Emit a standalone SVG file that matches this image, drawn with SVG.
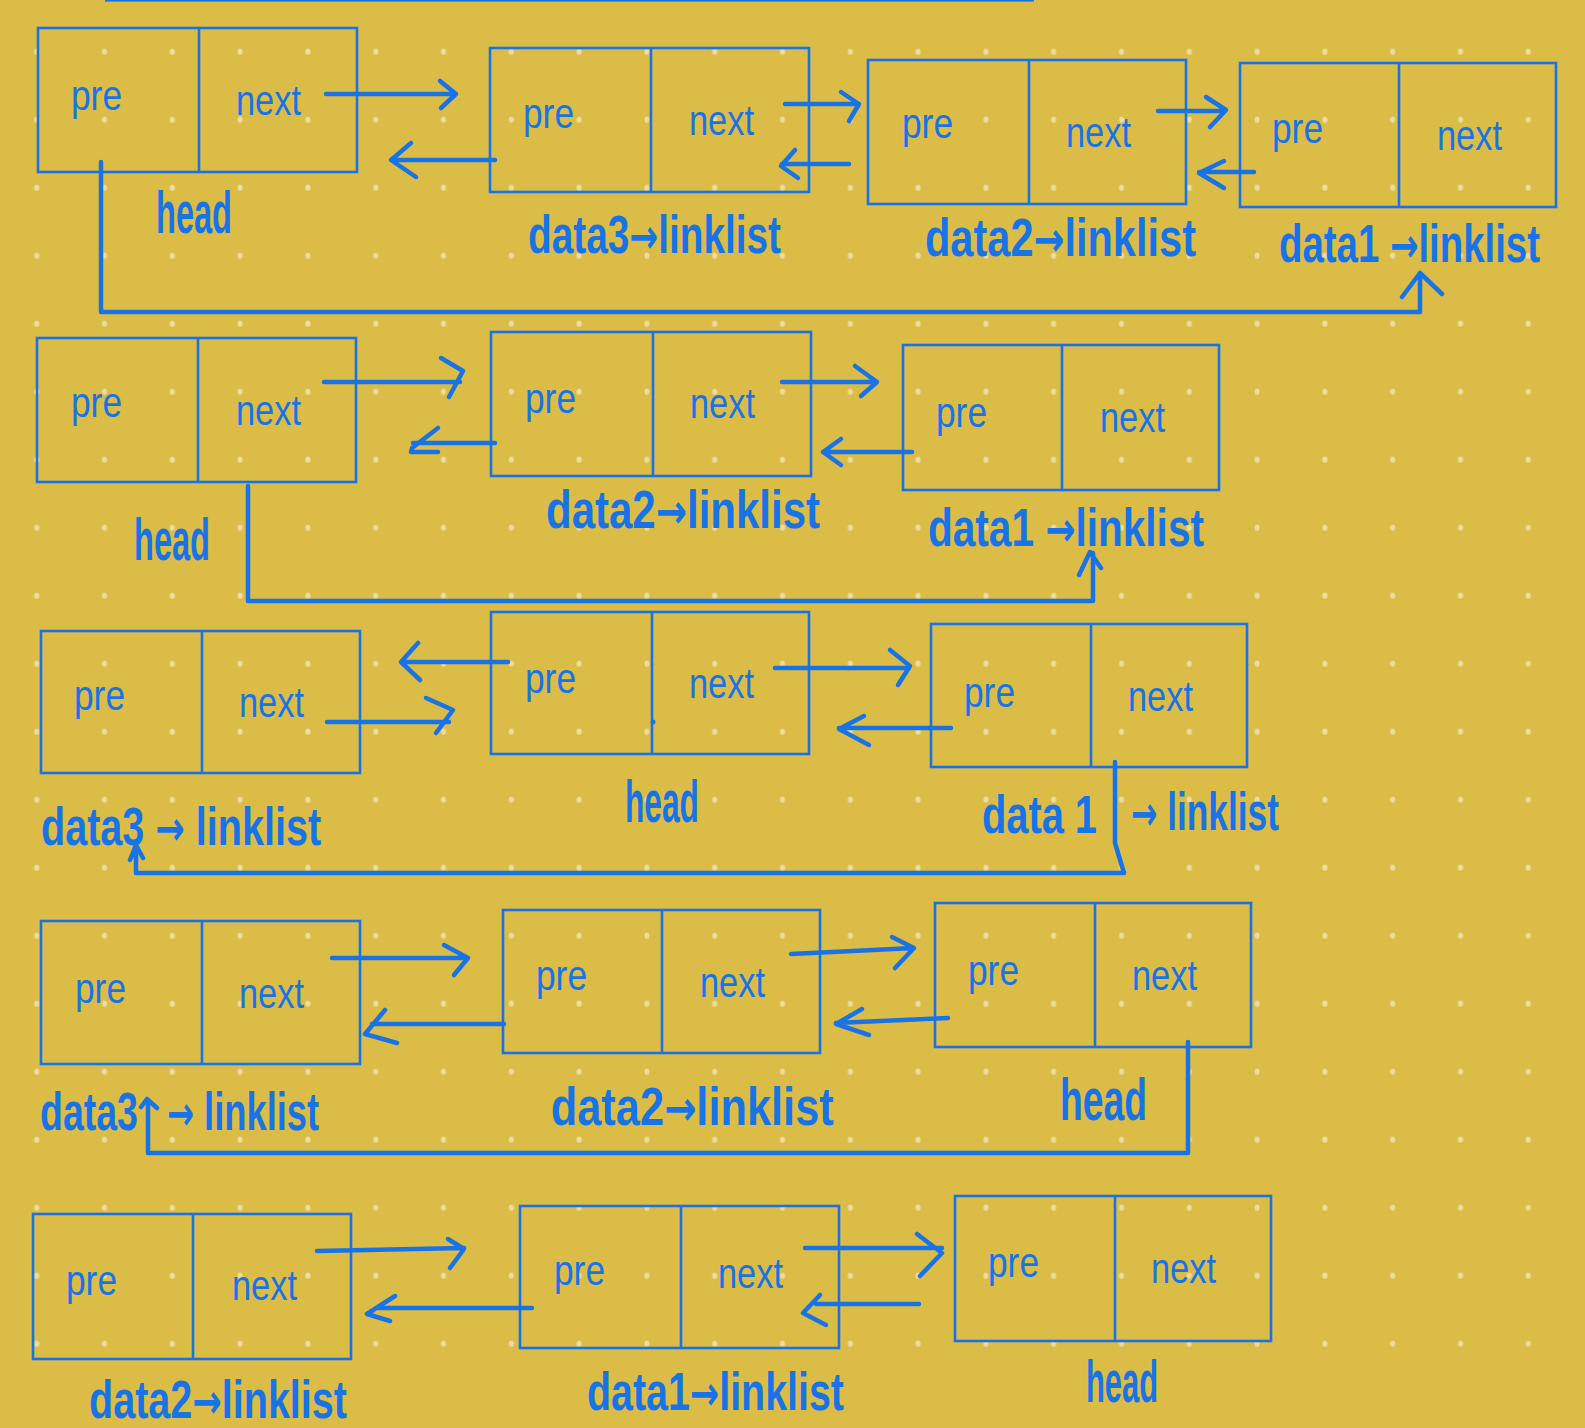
<svg xmlns="http://www.w3.org/2000/svg" width="1585" height="1428" viewBox="0 0 1585 1428">
<defs>
<pattern id="dots" patternUnits="userSpaceOnUse" x="2.8" y="17.7" width="67.8" height="68">
<ellipse cx="33.9" cy="34" rx="2.6" ry="3" fill="#EEDCA2"/>
</pattern>
<style>
.bx{fill:none;stroke:#1874E6;stroke-width:2.6}
.t{font-family:"Liberation Sans","DejaVu Sans",sans-serif;fill:#1874E6;font-size:42px}
.l{font-family:"Liberation Sans","DejaVu Sans",sans-serif;fill:#1874E6;font-size:54px;font-weight:bold}
.h{font-size:60px}
.a{font-family:"DejaVu Sans",sans-serif;font-size:48px;font-weight:bold}
.c{fill:none;stroke:#1874E6;stroke-width:4.5;stroke-linecap:round;stroke-linejoin:round}
</style>
</defs>
<rect width="1585" height="1428" fill="#DBBC47"/>
<rect x="2.8" y="17.7" width="1559.4" height="1360" fill="url(#dots)"/>
<rect x="105" y="0" width="929" height="1.6" fill="#1874E6"/>

<!-- Row 1 -->
<g id="r1-head">
<rect class="bx" x="38" y="28" width="319" height="144"/><line class="bx" x1="199" y1="28" x2="199" y2="172"/>
<text class="t" x="71" y="110" textLength="51" lengthAdjust="spacingAndGlyphs">pre</text>
<text class="t" x="236" y="115" textLength="65" lengthAdjust="spacingAndGlyphs">next</text>
<text class="l h" transform="translate(156,233) scale(0.54,1)" textLength="140.7" lengthAdjust="spacingAndGlyphs">head</text>
</g>
<g id="r1-data3">
<rect class="bx" x="490" y="48" width="319" height="144"/><line class="bx" x1="651" y1="48" x2="651" y2="192"/>
<text class="t" x="523" y="128" textLength="51" lengthAdjust="spacingAndGlyphs">pre</text>
<text class="t" x="689" y="135" textLength="65" lengthAdjust="spacingAndGlyphs">next</text>
<text class="l" transform="translate(528,253) scale(0.69,1)" textLength="366.7" lengthAdjust="spacingAndGlyphs">data3<tspan class="a">→</tspan>linklist</text>
</g>
<g id="r1-data2">
<rect class="bx" x="868" y="60" width="318" height="144"/><line class="bx" x1="1029" y1="60" x2="1029" y2="204"/>
<text class="t" x="902" y="138" textLength="51" lengthAdjust="spacingAndGlyphs">pre</text>
<text class="t" x="1066" y="147" textLength="65" lengthAdjust="spacingAndGlyphs">next</text>
<text class="l" transform="translate(925,256) scale(0.74,1)" textLength="366.2" lengthAdjust="spacingAndGlyphs">data2<tspan class="a">→</tspan>linklist</text>
</g>
<g id="r1-data1">
<rect class="bx" x="1240" y="63" width="316" height="144"/><line class="bx" x1="1399" y1="63" x2="1399" y2="207"/>
<text class="t" x="1272" y="143" textLength="51" lengthAdjust="spacingAndGlyphs">pre</text>
<text class="t" x="1437" y="150" textLength="65" lengthAdjust="spacingAndGlyphs">next</text>
<text class="l" transform="translate(1279,262) scale(0.685,1)" textLength="381" lengthAdjust="spacingAndGlyphs">data1 <tspan class="a">→</tspan>linklist</text>
</g>

<!-- Row 2 -->
<g id="r2-head">
<rect class="bx" x="37" y="338" width="319" height="144"/><line class="bx" x1="198" y1="338" x2="198" y2="482"/>
<text class="t" x="71" y="417" textLength="51" lengthAdjust="spacingAndGlyphs">pre</text>
<text class="t" x="236" y="425" textLength="65" lengthAdjust="spacingAndGlyphs">next</text>
<text class="l h" transform="translate(134,560) scale(0.54,1)" textLength="140.7" lengthAdjust="spacingAndGlyphs">head</text>
</g>
<g id="r2-data2">
<rect class="bx" x="491" y="332" width="320" height="144"/><line class="bx" x1="653" y1="332" x2="653" y2="476"/>
<text class="t" x="525" y="413" textLength="51" lengthAdjust="spacingAndGlyphs">pre</text>
<text class="t" x="690" y="418" textLength="65" lengthAdjust="spacingAndGlyphs">next</text>
<text class="l" transform="translate(546,528) scale(0.75,1)" textLength="365.3" lengthAdjust="spacingAndGlyphs">data2<tspan class="a">→</tspan>linklist</text>
</g>
<g id="r2-data1">
<rect class="bx" x="903" y="345" width="316" height="145"/><line class="bx" x1="1062" y1="345" x2="1062" y2="490"/>
<text class="t" x="936" y="427" textLength="51" lengthAdjust="spacingAndGlyphs">pre</text>
<text class="t" x="1100" y="432" textLength="65" lengthAdjust="spacingAndGlyphs">next</text>
<text class="l" transform="translate(928,546) scale(0.72,1)" textLength="383.3" lengthAdjust="spacingAndGlyphs">data1 <tspan class="a">→</tspan>linklist</text>
</g>

<!-- Row 3 -->
<g id="r3-data3">
<rect class="bx" x="41" y="631" width="319" height="142"/><line class="bx" x1="202" y1="631" x2="202" y2="773"/>
<text class="t" x="74" y="710" textLength="51" lengthAdjust="spacingAndGlyphs">pre</text>
<text class="t" x="239" y="717" textLength="65" lengthAdjust="spacingAndGlyphs">next</text>
<text class="l" transform="translate(41,845) scale(0.72,1)" textLength="389" lengthAdjust="spacingAndGlyphs">data3 <tspan class="a">→</tspan> linklist</text>
</g>
<g id="r3-head">
<rect class="bx" x="491" y="612" width="318" height="142"/><line class="bx" x1="652" y1="612" x2="652" y2="754"/>
<circle cx="653" cy="722" r="2.5" fill="#1874E6"/>
<text class="t" x="525" y="693" textLength="51" lengthAdjust="spacingAndGlyphs">pre</text>
<text class="t" x="689" y="698" textLength="65" lengthAdjust="spacingAndGlyphs">next</text>
<text class="l h" transform="translate(625,822) scale(0.53,1)" textLength="139.6" lengthAdjust="spacingAndGlyphs">head</text>
</g>
<g id="r3-data1">
<rect class="bx" x="931" y="624" width="316" height="143"/><line class="bx" x1="1091" y1="624" x2="1091" y2="767"/>
<text class="t" x="964" y="707" textLength="51" lengthAdjust="spacingAndGlyphs">pre</text>
<text class="t" x="1128" y="711" textLength="65" lengthAdjust="spacingAndGlyphs">next</text>
<text class="l" transform="translate(982,833) scale(0.737,1)" textLength="156" lengthAdjust="spacingAndGlyphs">data 1</text>
<text class="l" transform="translate(1131,830) scale(0.655,1)" textLength="226" lengthAdjust="spacingAndGlyphs"><tspan class="a">→</tspan> linklist</text>
</g>

<!-- Row 4 -->
<g id="r4-data3">
<rect class="bx" x="41" y="921" width="319" height="143"/><line class="bx" x1="202" y1="921" x2="202" y2="1064"/>
<text class="t" x="75" y="1003" textLength="51" lengthAdjust="spacingAndGlyphs">pre</text>
<text class="t" x="239" y="1008" textLength="65" lengthAdjust="spacingAndGlyphs">next</text>
<text class="l" transform="translate(40,1130) scale(0.695,1)" textLength="141" lengthAdjust="spacingAndGlyphs">data3</text>
<text class="l" transform="translate(167,1130) scale(0.673,1)" textLength="226" lengthAdjust="spacingAndGlyphs"><tspan class="a">→</tspan> linklist</text>
</g>
<g id="r4-data2">
<rect class="bx" x="503" y="910" width="317" height="143"/><line class="bx" x1="662" y1="910" x2="662" y2="1053"/>
<text class="t" x="536" y="990" textLength="51" lengthAdjust="spacingAndGlyphs">pre</text>
<text class="t" x="700" y="997" textLength="65" lengthAdjust="spacingAndGlyphs">next</text>
<text class="l" transform="translate(551,1125) scale(0.77,1)" textLength="367.5" lengthAdjust="spacingAndGlyphs">data2<tspan class="a">→</tspan>linklist</text>
</g>
<g id="r4-head">
<rect class="bx" x="935" y="903" width="316" height="144"/><line class="bx" x1="1095" y1="903" x2="1095" y2="1047"/>
<text class="t" x="968" y="985" textLength="51" lengthAdjust="spacingAndGlyphs">pre</text>
<text class="t" x="1132" y="990" textLength="65" lengthAdjust="spacingAndGlyphs">next</text>
<text class="l h" transform="translate(1060,1120) scale(0.62,1)" textLength="140.3" lengthAdjust="spacingAndGlyphs">head</text>
</g>

<!-- Row 5 -->
<g id="r5-data2">
<rect class="bx" x="33" y="1214" width="318" height="145"/><line class="bx" x1="193" y1="1214" x2="193" y2="1359"/>
<text class="t" x="66" y="1295" textLength="51" lengthAdjust="spacingAndGlyphs">pre</text>
<text class="t" x="232" y="1300" textLength="65" lengthAdjust="spacingAndGlyphs">next</text>
<text class="l" transform="translate(89,1418) scale(0.70,1)" textLength="368.6" lengthAdjust="spacingAndGlyphs">data2<tspan class="a">→</tspan>linklist</text>
</g>
<g id="r5-data1">
<rect class="bx" x="520" y="1206" width="319" height="142"/><line class="bx" x1="681" y1="1206" x2="681" y2="1348"/>
<text class="t" x="554" y="1285" textLength="51" lengthAdjust="spacingAndGlyphs">pre</text>
<text class="t" x="718" y="1288" textLength="65" lengthAdjust="spacingAndGlyphs">next</text>
<text class="l" transform="translate(587,1410) scale(0.70,1)" textLength="367.1" lengthAdjust="spacingAndGlyphs">data1<tspan class="a">→</tspan>linklist</text>
</g>
<g id="r5-head">
<rect class="bx" x="955" y="1196" width="316" height="145"/><line class="bx" x1="1115" y1="1196" x2="1115" y2="1341"/>
<text class="t" x="988" y="1277" textLength="51" lengthAdjust="spacingAndGlyphs">pre</text>
<text class="t" x="1151" y="1283" textLength="65" lengthAdjust="spacingAndGlyphs">next</text>
<text class="l h" transform="translate(1086,1402) scale(0.51,1)" textLength="141.2" lengthAdjust="spacingAndGlyphs">head</text>
</g>

<g id="connectors" class="c">
<!-- row 1 -->
<path d="M326,94 H456 M440,81 L456,94 L441,108"/>
<path d="M495,160 H391 M411,143 L391,160 L416,177"/>
<path d="M785,104 H859 M841,92 L859,104 L849,121"/>
<path d="M849,164 H782 M795,150 L781,166 L798,178"/>
<path d="M1158,111 H1225 M1206,97 L1226,110 L1210,127"/>
<path d="M1254,172 H1199 M1224,161 L1199,173 L1224,188"/>
<path d="M101,162 V312 H1420 V273 M1402,297 L1420,273 L1442,294"/>
<!-- row 2 -->
<path d="M324,382 H460 M441,358 L463,371 L449,397"/>
<path d="M495,443 H413 M438,428 L412,448 L411,452 L438,452"/>
<path d="M782,382 H877 M855,366 L877,382 L861,396"/>
<path d="M912,452 H823 M841,439 L823,452 L841,465"/>
<path d="M248,486 V601 H1093 V553 M1079,575 L1090,552 L1101,568"/>
<!-- row 3 -->
<path d="M508,662 H401 M418,643 L401,662 L420,680"/>
<path d="M327,722 H449 M426,698 L453,710 L436,733"/>
<path d="M775,668 H909 M890,650 L910,666 L898,685"/>
<path d="M951,728 H839 M864,716 L839,729 L869,745"/>
<path d="M1115,762 V843 L1124,873 H136 V847 M130,860 L136,845 L143,858"/>
<!-- row 4 -->
<path d="M332,958 H467 M444,945 L468,958 L454,975"/>
<path d="M504,1024 H372 M385,1010 L365,1034 L397,1043"/>
<path d="M791,954 L914,948 M892,937 L914,948 L895,968"/>
<path d="M948,1018 L836,1023 M862,1009 L836,1024 L869,1035"/>
<path d="M1188,1042 V1153 H148 V1100 M141,1107 L147,1099 L157,1108"/>
<!-- row 5 -->
<path d="M317,1251 L464,1248 M448,1239 L464,1249 L450,1268"/>
<path d="M532,1308 H378 M395,1296 L367,1314 L390,1321"/>
<path d="M805,1248 H942 M917,1234 L942,1253 L920,1276"/>
<path d="M919,1304 H816 M820,1295 L803,1313 L826,1325"/>
</g>
</svg>
